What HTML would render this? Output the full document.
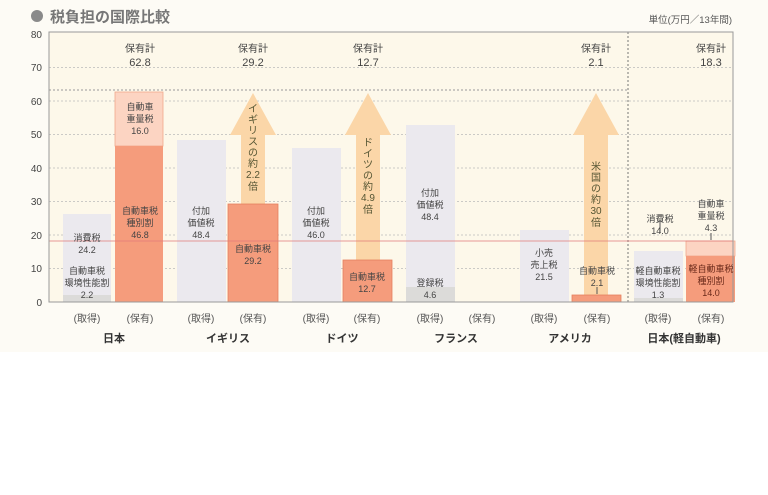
<!DOCTYPE html>
<html><head><meta charset="utf-8"><style>
body{margin:0;background:#fff;}
svg{display:block;font-family:"Liberation Sans","Noto Sans CJK JP",sans-serif;}
</style></head><body>
<svg width="768" height="495" viewBox="0 0 768 495">
<rect x="0" y="0" width="768" height="352" fill="#fdfbf5"/>
<circle cx="37" cy="16" r="6" fill="#8a8a8a"/>
<text x="50" y="22" font-size="15" fill="#777" font-weight="bold">税負担の国際比較</text>
<text x="732" y="23" font-size="9.5" fill="#555" text-anchor="end">単位(万円／13年間)</text>
<rect x="49" y="32" width="684" height="270" fill="#fdf8ea"/>
<g stroke="#bbb" stroke-dasharray="2,2" stroke-width="0.8">
<line x1="49" y1="268.5" x2="733" y2="268.5"/><line x1="49" y1="235" x2="733" y2="235"/>
<line x1="49" y1="201.5" x2="733" y2="201.5"/><line x1="49" y1="168" x2="733" y2="168"/>
<line x1="49" y1="134.5" x2="733" y2="134.5"/><line x1="49" y1="101" x2="733" y2="101"/>
<line x1="49" y1="67.5" x2="733" y2="67.5"/>
</g>
<line x1="49" y1="90" x2="628" y2="90" stroke="#999" stroke-dasharray="2,2"/>
<line x1="628" y1="32" x2="628" y2="302" stroke="#777" stroke-dasharray="2,2"/>
<g font-size="10" fill="#444" text-anchor="end">
<text x="42" y="306">0</text><text x="42" y="272">10</text><text x="42" y="239">20</text><text x="42" y="205">30</text><text x="42" y="172">40</text><text x="42" y="138">50</text><text x="42" y="105">60</text><text x="42" y="71">70</text><text x="42" y="38">80</text>
</g>
<!-- bars -->
<rect x="63" y="214" width="48" height="88" fill="#ebe9ee"/><rect x="63" y="295" width="48" height="7" fill="#dcdbd9"/>
<rect x="115" y="92" width="48" height="54" fill="#fcd4c2" stroke="#f0a88c" stroke-width="0.8"/><rect x="115" y="146" width="48" height="156" fill="#f59c7c"/>
<rect x="177" y="140" width="49" height="162" fill="#ebe9ee"/>
<polygon points="253,93 276,135 265,135 265,204 241,204 241,135 230,135" fill="#fbd6a8"/>
<rect x="228" y="204" width="50" height="98" fill="#f59c7c" stroke="#e5805e" stroke-width="0.8"/>
<rect x="292" y="148" width="49" height="154" fill="#ebe9ee"/>
<polygon points="368,93 391,135 380,135 380,260 356,260 356,135 345,135" fill="#fbd6a8"/>
<rect x="343" y="260" width="49" height="42" fill="#f59c7c" stroke="#e5805e" stroke-width="0.8"/>
<rect x="406" y="125" width="49" height="177" fill="#ebe9ee"/><rect x="406" y="287" width="49" height="15" fill="#dcdbd9"/>
<rect x="520" y="230" width="49" height="72" fill="#ebe9ee"/>
<polygon points="596,93 619,135 608,135 608,295 584,295 584,135 573,135" fill="#fbd6a8"/>
<rect x="572" y="295" width="49" height="7" fill="#f59c7c" stroke="#e5805e" stroke-width="0.8"/>
<rect x="634" y="251" width="49" height="51" fill="#ebe9ee"/><rect x="634" y="298" width="49" height="4" fill="#dcdbd9"/>
<rect x="686" y="241" width="49" height="15" fill="#fcd4c2" stroke="#f0a88c" stroke-width="0.8"/><rect x="686" y="256" width="49" height="46" fill="#f59c7c"/>
<line x1="49" y1="241" x2="733" y2="241" stroke="#e07a7a" stroke-width="0.8"/>
<rect x="49" y="32" width="684" height="270" fill="none" stroke="#999" stroke-width="1"/>
<line x1="660" y1="220" x2="660" y2="232" stroke="#555"/><line x1="711" y1="233" x2="711" y2="240" stroke="#555"/>
<line x1="597" y1="287" x2="597" y2="294" stroke="#555"/>
<!-- labels -->
<g font-size="10" fill="#444" text-anchor="middle">
<text x="140" y="52">保有計</text><text x="140" y="66" font-size="11">62.8</text>
<text x="253" y="52">保有計</text><text x="253" y="66" font-size="11">29.2</text>
<text x="368" y="52">保有計</text><text x="368" y="66" font-size="11">12.7</text>
<text x="596" y="52">保有計</text><text x="596" y="66" font-size="11">2.1</text>
<text x="711" y="52">保有計</text><text x="711" y="66" font-size="11">18.3</text>
<g font-size="9">
<text x="140" y="110">自動車</text><text x="140" y="122">重量税</text><text x="140" y="134">16.0</text>
<text x="140" y="214">自動車税</text><text x="140" y="226">種別割</text><text x="140" y="238">46.8</text>
<text x="87" y="241">消費税</text><text x="87" y="253">24.2</text>
<text x="87" y="274">自動車税</text><text x="87" y="286">環境性能割</text><text x="87" y="298">2.2</text>
<text x="201" y="214">付加</text><text x="201" y="226">価値税</text><text x="201" y="238">48.4</text>
<text x="253" y="252">自動車税</text><text x="253" y="264">29.2</text>
<text x="316" y="214">付加</text><text x="316" y="226">価値税</text><text x="316" y="238">46.0</text>
<text x="367" y="280">自動車税</text><text x="367" y="292">12.7</text>
<text x="430" y="196">付加</text><text x="430" y="208">価値税</text><text x="430" y="220">48.4</text>
<text x="430" y="286">登録税</text><text x="430" y="298">4.6</text>
<text x="544" y="256">小売</text><text x="544" y="268">売上税</text><text x="544" y="280">21.5</text>
<text x="597" y="274">自動車税</text><text x="597" y="286">2.1</text>
<text x="660" y="222">消費税</text><text x="660" y="234">14.0</text>
<text x="658" y="274">軽自動車税</text><text x="658" y="286">環境性能割</text><text x="658" y="298">1.3</text>
<text x="711" y="207">自動車</text><text x="711" y="219">重量税</text><text x="711" y="231">4.3</text>
<text x="711" y="272" fill="#6b2a1a">軽自動車税</text><text x="711" y="284" fill="#6b2a1a">種別割</text><text x="711" y="296" fill="#6b2a1a">14.0</text>
</g>
<g font-size="10" fill="#553">
<text x="253" y="112">イ</text><text x="253" y="123">ギ</text><text x="253" y="134">リ</text><text x="253" y="145">ス</text><text x="253" y="156">の</text><text x="253" y="167">約</text>
<text x="253" y="178">2.2</text><text x="253" y="190">倍</text>
<text x="368" y="146">ド</text><text x="368" y="157">イ</text><text x="368" y="168">ツ</text><text x="368" y="179">の</text><text x="368" y="190">約</text>
<text x="368" y="201">4.9</text><text x="368" y="213">倍</text>
<text x="596" y="170">米</text><text x="596" y="181">国</text><text x="596" y="192">の</text><text x="596" y="203">約</text>
<text x="596" y="214">30</text><text x="596" y="226">倍</text>
</g>
<g font-size="10" fill="#555">
<text x="87" y="322">(取得)</text><text x="140" y="322">(保有)</text>
<text x="201" y="322">(取得)</text><text x="253" y="322">(保有)</text>
<text x="316" y="322">(取得)</text><text x="367" y="322">(保有)</text>
<text x="430" y="322">(取得)</text><text x="482" y="322">(保有)</text>
<text x="544" y="322">(取得)</text><text x="597" y="322">(保有)</text>
<text x="658" y="322">(取得)</text><text x="711" y="322">(保有)</text>
</g>
<g font-size="11" fill="#333" font-weight="bold">
<text x="114" y="342">日本</text><text x="228" y="342">イギリス</text><text x="342" y="342">ドイツ</text>
<text x="456" y="342">フランス</text><text x="570" y="342">アメリカ</text><text x="684" y="342">日本(軽自動車)</text>
</g>
</g>
</svg>
</body></html>
